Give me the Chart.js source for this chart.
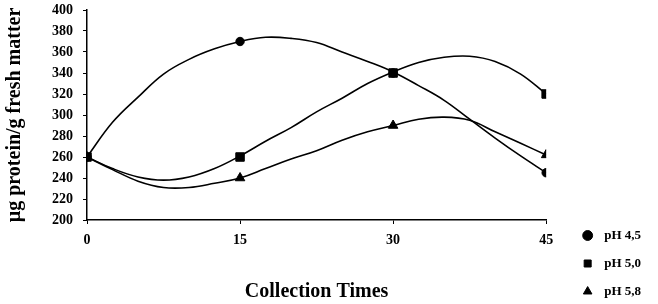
<!DOCTYPE html>
<html lang="en">
<head>
  <meta charset="UTF-8" />
  <title>Protein content by pH</title>
  <script src="https://cdn.jsdelivr.net/npm/chart.js"></script>
  <style>
    html, body { margin: 0; padding: 0; background: #fff; }
    #wrap { width: 658px; height: 304px; }
  </style>
</head>
<body>
  <div id="wrap"><canvas id="chart"></canvas></div>
  <script>
    // measured values (markers)
    const times = [0, 15, 30, 45];
    const ph45 = [260, 370, 340, 245];
    const ph50 = [260, 260, 340, 320];
    const ph58 = [260, 240, 290, 262];
    const seriesNames = ['pH 4,5', 'pH 5,0', 'pH 5,8'];

    // fitted curves, every 2.5 min
    const trendTimes = [0, 2.5, 5, 7.5, 10, 12.5, 15, 17.5, 20, 22.5, 25, 27.5, 30, 32.5, 35, 37.5, 40, 42.5, 45];
    const ph45Trend = [260, 293, 317, 339, 353, 363, 370, 374, 373, 369, 360, 351, 341, 328, 314, 296, 278, 261, 245];
    const ph50Trend = [260, 249, 241, 238, 241, 249, 261, 275, 288, 303, 316, 330, 341, 350, 355, 356, 351, 339, 320];
    const ph58Trend = [260, 248, 237, 231, 231, 235, 240, 249, 258, 266, 276, 284, 290, 296, 298, 295, 284, 273, 262];

    const pts = (xs, ys) => ys.map((v, i) => ({ x: xs[i], y: v }));
    const tickFont = { family: 'Liberation Serif', weight: 'bold', size: 14 };
    const titleFont = { family: 'Liberation Serif', weight: 'bold', size: 20 };

    function curve(vals) {
      return {
        data: pts(trendTimes, vals),
        showLine: true,
        borderColor: '#000',
        borderWidth: 1.6,
        tension: 0.4,
        pointRadius: 0,
        fill: false
      };
    }
    function marks(label, vals, style, r) {
      return {
        label: label,
        data: pts(times, vals),
        showLine: false,
        borderColor: '#000',
        backgroundColor: '#000',
        borderWidth: 1,
        pointStyle: style,
        pointRadius: r
      };
    }

    new Chart(document.getElementById('chart'), {
      type: 'scatter',
      data: {
        datasets: [
          curve(ph45Trend), curve(ph50Trend), curve(ph58Trend),
          marks(seriesNames[0], ph45, 'circle', 4.2),
          marks(seriesNames[1], ph50, 'rect', 6),
          marks(seriesNames[2], ph58, 'triangle', 5.5)
        ]
      },
      options: {
        responsive: true,
        maintainAspectRatio: false,
        animation: false,
        layout: { padding: { top: 2, right: 7, left: 3, bottom: -9 } },
        plugins: {
          tooltip: { enabled: false },
          legend: {
            position: 'right',
            align: 'end',
            labels: {
              filter: item => !!item.text,
              generateLabels: chart => Chart.defaults.plugins.legend.labels.generateLabels(chart)
                .map(l => Object.assign(l, { text: l.text ? '  ' + l.text : l.text })),
              usePointStyle: true,
              boxWidth: 7,
              boxHeight: 7,
              padding: 15,
              color: '#000',
              font: { family: 'Liberation Serif', weight: 'bold', size: 13 }
            }
          }
        },
        scales: {
          x: {
            type: 'linear',
            min: 0,
            max: 45,
            ticks: { stepSize: 15, color: '#000', font: tickFont, padding: 8 },
            grid: { drawOnChartArea: false, drawTicks: true, tickLength: 4, color: '#000' },
            border: { color: '#000', width: 1.5 },
            title: {
              display: true,
              text: 'Collection Times',
              color: '#000',
              font: titleFont,
              padding: { top: 0, bottom: 9 }
            },
            afterFit: s => { s.height = 93; }
          },
          y: {
            min: 200,
            max: 400,
            ticks: { stepSize: 20, autoSkip: false, color: '#000', font: tickFont, padding: 10 },
            grid: { drawOnChartArea: false, drawTicks: true, tickLength: 4, color: '#000' },
            border: { color: '#000', width: 1.5 },
            title: {
              display: true,
              text: 'µg protein/g fresh matter',
              color: '#000',
              font: titleFont,
              padding: { top: 0, bottom: 0 }
            },
            afterFit: s => { s.width = 84; s.paddingTop = 10; s.paddingBottom = 0; }
          },
          gap: {
            position: 'right',
            display: true,
            ticks: { display: false },
            grid: { display: false },
            border: { display: false },
            afterFit: s => { s.width = 23; s.paddingTop = 0; s.paddingBottom = 0; }
          }
        }
      }
    });
  </script>
</body>
</html>
